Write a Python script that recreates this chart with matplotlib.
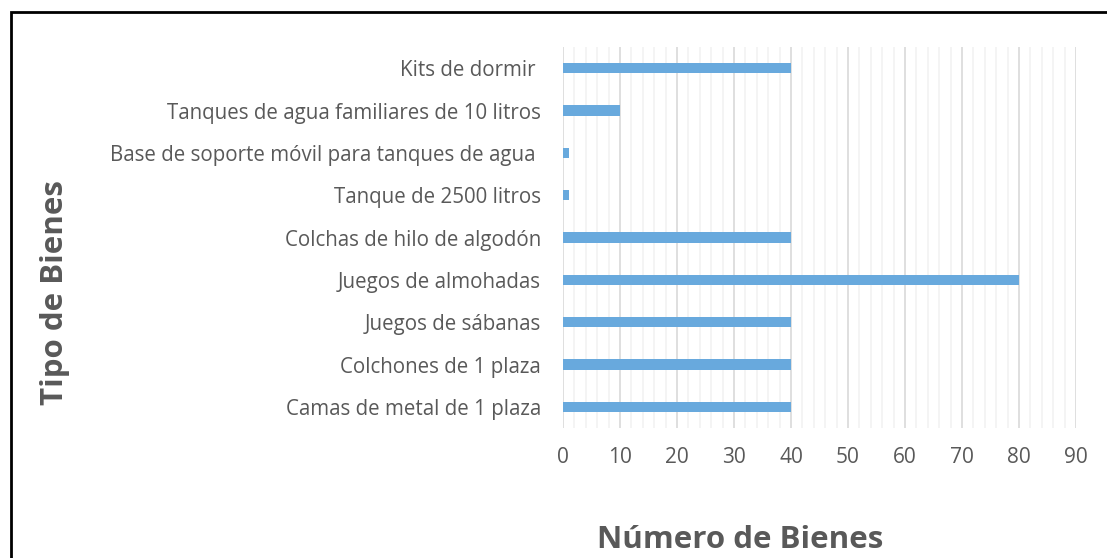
import matplotlib.pyplot as plt
from matplotlib.patches import Rectangle
from matplotlib.ticker import MultipleLocator

# data (bottom to top as drawn)
categorias = ['Camas de metal de 1 plaza', 'Colchones de 1 plaza', 'Juegos de sábanas',
              'Juegos de almohadas', 'Colchas de hilo de algodón', 'Tanque de 2500 litros',
              'Base de soporte móvil para tanques de agua ', 'Tanques de agua familiares de 10 litros',
              'Kits de dormir ']
valores = [40, 40, 40, 80, 40, 1, 1, 10, 40]
xticks = [0, 10, 20, 30, 40, 50, 60, 70, 80, 90]

gris = '#595959'
azul = '#68A9DD'
plt.rcParams['font.family'] = ['Open Sans', 'DejaVu Sans']

W, H = 1107, 558
fig = plt.figure(figsize=(W / 100, H / 100), dpi=100)
ax = fig.add_axes([563 / W, (H - 428) / H, (1076 - 563) / W, (428 - 47) / H])

ypos = list(range(len(categorias)))
ax.barh(ypos, valores, height=0.24, color=azul, zorder=3)

ax.set_xlim(0, 90)
ax.set_ylim(-0.5, len(categorias) - 0.5)
ax.set_xticks(xticks)
ax.xaxis.set_minor_locator(MultipleLocator(2))
ax.grid(axis='x', which='major', color='#D9D9D9', linewidth=1.2, zorder=0)
ax.grid(axis='x', which='minor', color='#F2F2F2', linewidth=1.2, zorder=0)
ax.set_yticks(ypos)
ax.set_yticklabels(categorias)
ax.tick_params(axis='y', length=0, pad=16, labelsize=14.8, labelcolor=gris)
ax.tick_params(axis='x', which='both', length=0, pad=14, labelsize=15, labelcolor=gris)
for s in ax.spines.values():
    s.set_visible(False)

fig.text(55 / W, 1 - 292 / H, 'Tipo de Bienes', rotation=90, ha='center', va='center',
         fontsize=22.5, fontweight='bold', color=gris)
fig.text(740 / W, 1 - 540 / H, 'Número de Bienes', ha='center', va='center',
         fontsize=22.5, fontweight='bold', color=gris)

# outer frame (cut at right and bottom edges)
fig.patches.append(Rectangle((10.5 / W, -0.1), 1.2, 1.1 - 12.5 / H, transform=fig.transFigure,
                             fill=False, edgecolor='black', linewidth=2))

fig.savefig('out.png', dpi=100)
